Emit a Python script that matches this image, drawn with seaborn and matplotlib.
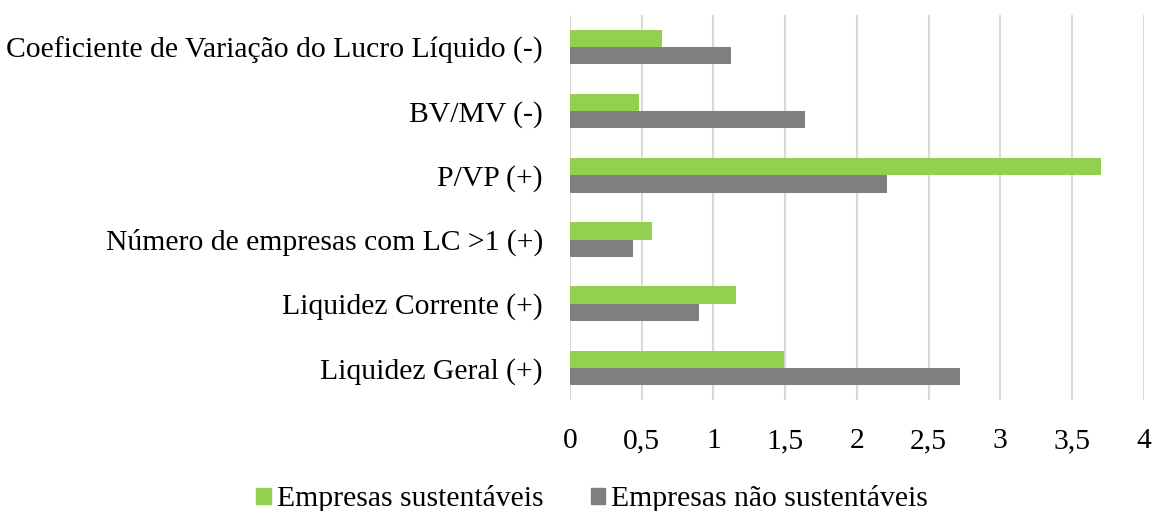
import pandas as pd
import seaborn as sns
import matplotlib.pyplot as plt

categorias = ["Coeficiente de Variação do Lucro Líquido (-)", "BV/MV (-)", "P/VP (+)",
              "Número de empresas com LC >1 (+)", "Liquidez Corrente (+)", "Liquidez Geral (+)"]
sustentaveis = [0.64, 0.48, 3.70, 0.57, 1.16, 1.49]
nao_sustentaveis = [1.12, 1.64, 2.21, 0.44, 0.90, 2.72]
series = ["Empresas sustentáveis", "Empresas não sustentáveis"]
ticks = [0, 0.5, 1, 1.5, 2, 2.5, 3, 3.5, 4]
tick_labels = ["0", "0,5", "1", "1,5", "2", "2,5", "3", "3,5", "4"]

df = pd.DataFrame({
    "indicador": categorias * 2,
    "valor": sustentaveis + nao_sustentaveis,
    "grupo": [series[0]] * len(categorias) + [series[1]] * len(categorias),
})

sns.set_style("white")
plt.rcParams["font.family"] = ["Liberation Serif", "DejaVu Serif"]
plt.rcParams["text.color"] = "black"
plt.rcParams["xtick.color"] = "black"
plt.rcParams["ytick.color"] = "black"

fig = plt.figure(figsize=(11.54, 5.11), dpi=100)
ax = fig.add_axes([0.494, 0.217, 0.497, 0.754])

sns.barplot(data=df, y="indicador", x="valor", hue="grupo", order=categorias,
            hue_order=series, palette=["#92D050", "#7F7F7F"], width=0.54,
            orient="h", ax=ax, legend=False, saturation=1, linewidth=0)

ax.set_xlim(0, 4)
ax.set_xticks(ticks)
ax.set_xticklabels(tick_labels, fontsize=21.3)
ax.tick_params(axis="y", labelsize=21.3, length=0, pad=19.5)
ax.tick_params(axis="x", length=0, pad=20)
ax.set_xlabel("")
ax.set_ylabel("")
ax.grid(axis="x", color="#D9D9D9", linewidth=1.5)
ax.set_axisbelow(True)
for s in ax.spines.values():
    s.set_visible(False)

handles = [plt.Rectangle((0, 0), 1, 1, color="#92D050"),
           plt.Rectangle((0, 0), 1, 1, color="#7F7F7F")]
fig.legend(handles, series, loc="lower center", bbox_to_anchor=(0.513, -0.055), ncol=2,
           frameon=False, fontsize=21.3, handlelength=0.5, handleheight=0.5,
           handletextpad=0.2, columnspacing=1.6)

fig.savefig("out.png", dpi=100)
